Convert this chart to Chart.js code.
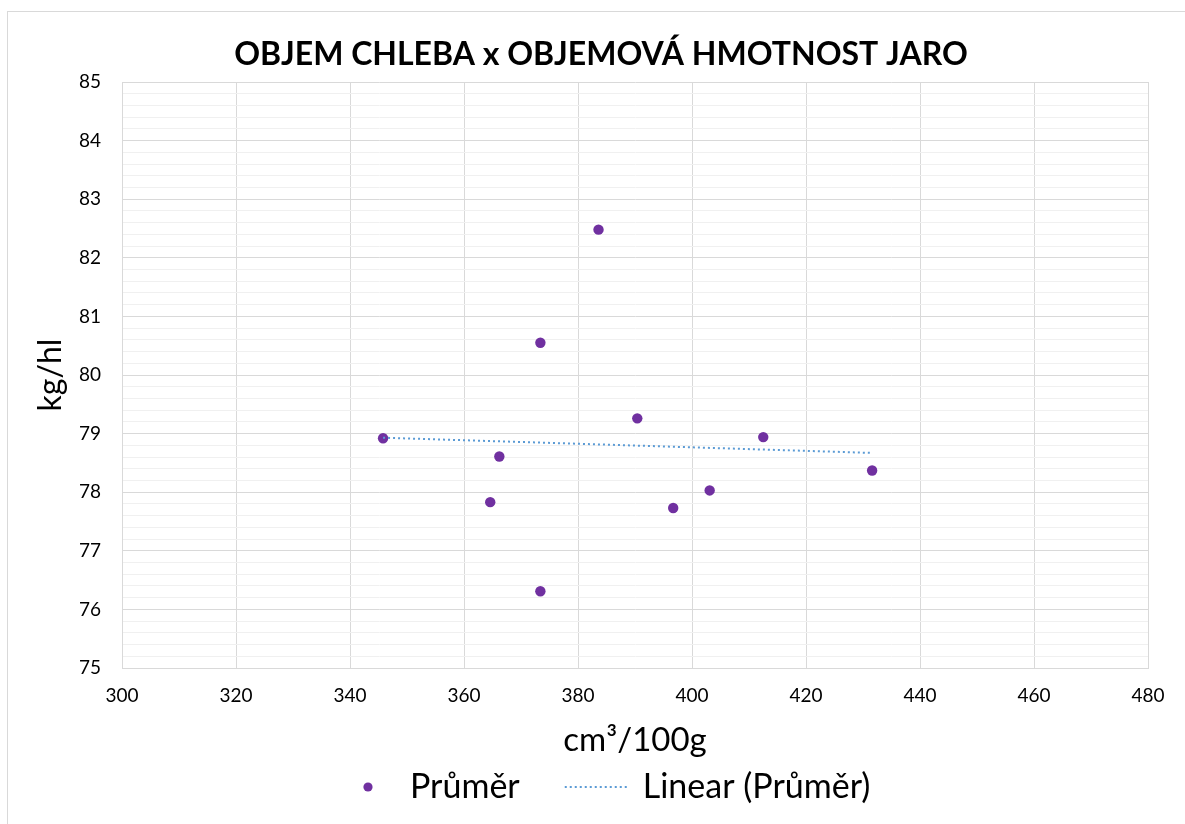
<!DOCTYPE html>
<html>
<head>
<meta charset="utf-8">
<script src="https://cdn.jsdelivr.net/npm/chart.js@4.4.1/dist/chart.umd.min.js"></script>
<style>
  html, body { margin: 0; padding: 0; background: #fff; }
</style>
</head>
<body>
<canvas id="myChart" width="1185" height="824"></canvas>
<script>
// values
const volume  = [345.8, 366.2, 364.6, 373.4, 373.4, 383.6, 390.4, 396.7, 403.1, 412.5, 431.6];
const density = [78.92, 78.61, 77.83, 80.55, 76.31, 82.48, 79.26, 77.73, 78.03, 78.94, 78.37];
const trendX  = [345.8, 431.6];
const trendY  = [78.93, 78.67];
const xTicks  = [300, 480, 20];  // min, max, step
const yTicks  = [75, 85, 1];

const FONT = 'Lato';
Chart.defaults.font.family = FONT;
Chart.defaults.color = '#000';

const isWhole = v => Math.abs(v - Math.round(v)) < 1e-6;

// legend marks drawn to small canvases
function dotMark() {
  const c = document.createElement('canvas');
  c.width = 58; c.height = 12;
  const g = c.getContext('2d');
  g.fillStyle = '#7030a0';
  g.beginPath();
  g.arc(52, 6, 4.6, 0, Math.PI * 2);
  g.fill();
  return c;
}
function dottedMark() {
  const c = document.createElement('canvas');
  c.width = 106; c.height = 4;
  const g = c.getContext('2d');
  g.strokeStyle = '#5b9bd5';
  g.lineWidth = 2;
  g.setLineDash([2, 3]);
  g.beginPath();
  g.moveTo(40, 2);
  g.lineTo(105, 2);
  g.stroke();
  return c;
}
const marks = [dotMark(), dottedMark()];

const frame = {
  id: 'frame',
  beforeDraw(chart) {
    const ctx = chart.ctx;
    ctx.save();
    ctx.strokeStyle = '#d9d9d9';
    ctx.lineWidth = 1;
    ctx.strokeRect(7.5, 11.5, 1400, 1000);
    ctx.restore();
  },
  afterLayout(chart) {
    // title and legend sit a little right of the canvas centre
    chart.titleBlock.left = 54;
    chart.legend.left = 287;
  }
};

const ctx = document.getElementById('myChart').getContext('2d');
const chart = new Chart(ctx, {
  type: 'scatter',
  data: {
    datasets: [{
      label: 'Průměr',
      data: volume.map((v, i) => ({x: v, y: density[i]})),
      backgroundColor: '#7030a0',
      borderWidth: 0,
      pointRadius: 5.2,
      order: 1
    }, {
      label: 'Linear (Průměr)',
      data: trendX.map((v, i) => ({x: v, y: trendY[i]})),
      showLine: true,
      borderColor: '#5b9bd5',
      borderWidth: 2,
      borderDash: [2, 3],
      pointRadius: 0,
      order: 0
    }]
  },
  options: {
    responsive: false,
    animation: false,
    devicePixelRatio: 1,
    layout: { padding: { left: 8, right: 37, top: 0, bottom: 10 } },
    plugins: {
      title: {
        display: true,
        text: 'OBJEM CHLEBA x OBJEMOVÁ HMOTNOST JARO',
        font: { family: FONT, size: 32, weight: 'bold' },
        color: '#000',
        padding: { top: 35, bottom: 8.6 }
      },
      legend: {
        position: 'bottom',
        align: 'start',
        labels: {
          usePointStyle: true,
          pointStyleWidth: 96,
          padding: 10,
          font: { family: FONT, size: 34 },
          color: '#000',
          generateLabels: chart => chart.data.datasets.map((ds, i) => ({
            text: ds.label,
            pointStyle: marks[i],
            fillStyle: 'transparent',
            strokeStyle: 'transparent',
            lineWidth: 0,
            fontColor: '#000',
            datasetIndex: i
          }))
        }
      },
      tooltip: { enabled: false }
    },
    scales: {
      x: {
        type: 'linear',
        min: xTicks[0], max: xTicks[1],
        ticks: { stepSize: xTicks[2], padding: 16.6, font: { size: 19 }, color: '#000' },
        grid: { color: '#d9d9d9', drawTicks: false },
        border: { color: '#d9d9d9' },
        title: {
          display: true,
          text: 'cm³/100g',
          font: { family: FONT, size: 33 },
          color: '#000',
          padding: { top: 0, bottom: 0 }
        },
        afterFit: s => { s.height = 92; }
      },
      y: {
        min: yTicks[0], max: yTicks[1],
        ticks: {
          stepSize: 0.2,
          autoSkip: false,
          padding: 21,
          font: { size: 19 },
          color: '#000',
          callback: v => isWhole(v) ? String(Math.round(v)) : ''
        },
        grid: {
          drawTicks: false,
          color: c => isWhole(c.tick.value) ? '#d9d9d9' : '#f0f0f0'
        },
        border: { color: '#d9d9d9' },
        title: {
          display: true,
          text: 'kg/hl',
          font: { family: FONT, size: 32 },
          color: '#000',
          padding: { top: 23.8, bottom: 0 }
        },
        afterFit: s => { s.width = 114; }
      }
    }
  },
  plugins: [frame]
});
</script>
</body>
</html>
